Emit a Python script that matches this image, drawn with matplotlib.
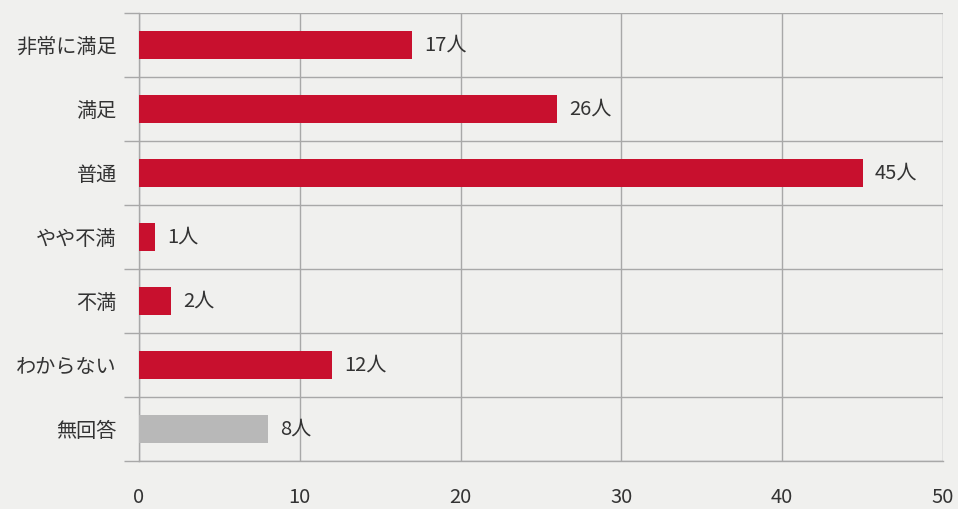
import numpy as np
import matplotlib
matplotlib.use("Agg")
import matplotlib.pyplot as plt

plt.rcParams['font.family'] = ['Noto Sans CJK JP', 'DejaVu Sans']

# data
categories = ['非常に満足', '満足', '普通', 'やや不満', '不満', 'わからない', '無回答']
counts = [17, 26, 45, 1, 2, 12, 8]
xticks = [0, 10, 20, 30, 40, 50]

red = '#c8102e'
gray_bar = '#b8b8b8'
bar_colors = [red] * 6 + [gray_bar]
bg = '#f0f0ee'
grid_c = '#a8a8a8'
txt = '#333333'

fig = plt.figure(figsize=(9.58, 5.09), dpi=100, facecolor=bg)
ax = fig.add_axes([0.1451, 0.0943, 0.8392, 0.8802], facecolor=bg)

y = np.arange(len(categories))
ax.barh(y, counts, height=0.44, color=bar_colors, zorder=3)

for yi, v in zip(y, counts):
    ax.text(v + 0.75, yi, f'{v}人', va='center', ha='left', fontsize=14.5, color=txt, zorder=4)

ax.set_xlim(0, 50)
ax.set_ylim(len(categories) - 0.5, -0.5)
ax.set_xticks(xticks)
ax.set_xticklabels([str(t) for t in xticks], fontsize=14.5, color=txt)
ax.set_yticks(y)
ax.set_yticklabels(categories, fontsize=14.5, color=txt)

# boundaries between categories as minor ticks + grid
bounds = np.arange(len(categories) + 1) - 0.5
ax.set_yticks(bounds, minor=True)
ax.grid(which='minor', axis='y', color=grid_c, lw=1.0, zorder=1)
ax.grid(which='major', axis='x', color=grid_c, lw=1.0, zorder=1)
ax.tick_params(axis='x', length=0, pad=19)
ax.tick_params(axis='y', which='major', length=0, pad=16)
ax.tick_params(axis='y', which='minor', length=11, color=grid_c, width=1.0)

for s in ['top', 'right']:
    ax.spines[s].set_visible(False)
for s in ['left', 'bottom']:
    ax.spines[s].set_color(grid_c)
    ax.spines[s].set_linewidth(1.0)

fig.savefig('out.png', dpi=100, facecolor=bg)
